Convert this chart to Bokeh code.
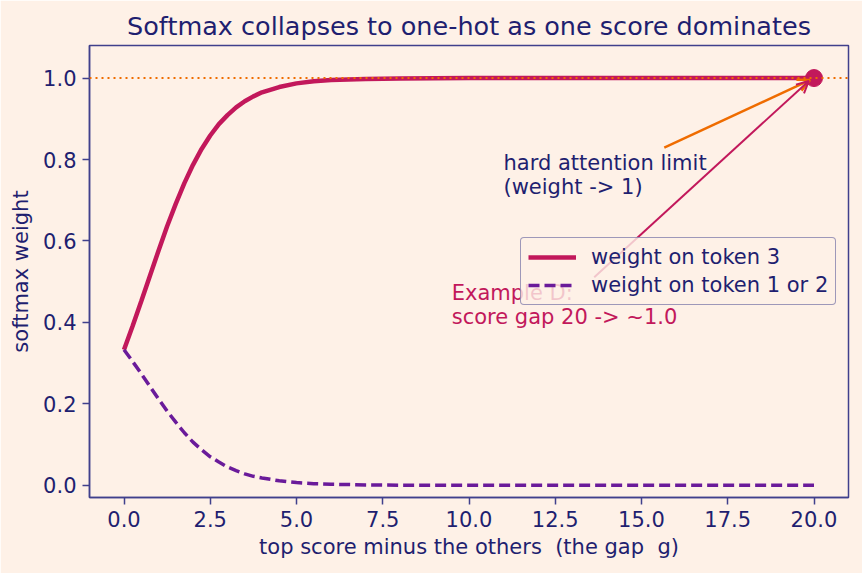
from bokeh.plotting import figure
from bokeh.models import (Range1d, FixedTicker, NumeralTickFormatter, Span, Arrow,
                          OpenHead, Legend, LegendItem)
from bokeh.core.properties import value
from bokeh.embed import file_html
from bokeh.resources import INLINE

# ---- data ----
gap = [0, 0.25, 0.5, 0.75, 1.0, 1.25, 1.5, 1.75, 2.0, 2.25, 2.5, 2.75, 3.0, 3.25,
       3.5, 3.75, 4.0, 4.5, 5.0, 5.5, 6.0, 7.0, 8.0, 10.0, 12.0, 15.0, 20.0]
w_top = [0.333, 0.391, 0.452, 0.514, 0.576, 0.636, 0.691, 0.742, 0.787, 0.826,
         0.859, 0.887, 0.909, 0.928, 0.943, 0.955, 0.965, 0.978, 0.987, 0.992,
         0.995, 0.998, 0.999, 1.000, 1.000, 1.000, 1.000]
w_other = [0.333, 0.304, 0.274, 0.243, 0.212, 0.182, 0.155, 0.129, 0.106, 0.087,
           0.070, 0.057, 0.045, 0.036, 0.028, 0.022, 0.018, 0.011, 0.0066, 0.004,
           0.0025, 0.001, 0.0003, 0.0, 0.0, 0.0, 0.0]
x_ticks = [0, 2.5, 5, 7.5, 10, 12.5, 15, 17.5, 20]
y_ticks = [0, 0.2, 0.4, 0.6, 0.8, 1.0]
example_gap = [20]
example_weight = [1.0]

BG = "#fef1e7"
FRAME = "#40408c"
TXT = "#1f1f70"
CRIMSON = "#c2185b"
PURPLE = "#6a1b9a"
ORANGE = "#ef6c00"
FONT = "DejaVu Sans"
FS = "21px"

p = figure(width=862, height=573, output_backend="svg", toolbar_location=None,
           x_range=Range1d(-1.0, 21.0), y_range=Range1d(-0.03, 1.08),
           min_border_left=89, min_border_right=14, min_border_top=45,
           min_border_bottom=76)
p.background_fill_color = BG
p.border_fill_color = BG
p.outline_line_color = FRAME
p.outline_line_width = 1.5
p.grid.visible = False

p.title.text = "Softmax collapses to one-hot as one score dominates"
p.title.align = "center"
p.title.text_font = FONT
p.title.text_font_size = "25.5px"
p.title.text_font_style = "normal"
p.title.text_color = TXT

p.xaxis.axis_label = "top score minus the others \u00a0(the gap \u00a0g)"
p.yaxis.axis_label = "softmax weight"
p.xaxis.ticker = FixedTicker(ticks=x_ticks)
p.yaxis.ticker = FixedTicker(ticks=y_ticks)
p.xaxis.formatter = NumeralTickFormatter(format="0.0")
p.yaxis.formatter = NumeralTickFormatter(format="0.0")
for ax in (p.xaxis, p.yaxis):
    ax.axis_line_color = FRAME
    ax.axis_line_width = 1.5
    ax.major_tick_line_color = FRAME
    ax.major_tick_line_width = 1.5
    ax.major_tick_out = 7
    ax.major_tick_in = 0
    ax.minor_tick_line_color = None
    ax.major_label_text_font = FONT
    ax.major_label_text_font_size = FS
    ax.major_label_text_color = TXT
    ax.axis_label_text_font = FONT
    ax.axis_label_text_font_size = FS
    ax.axis_label_text_font_style = "normal"
    ax.axis_label_text_color = TXT
p.xaxis.major_label_standoff = 6
p.yaxis.major_label_standoff = 6
p.xaxis.axis_label_standoff = 5
p.yaxis.axis_label_standoff = 7

p.add_layout(Span(location=1.0, dimension="width", line_color=ORANGE,
                  line_width=2, line_dash="2 4"))

r1 = p.line(gap, w_top, line_color=CRIMSON, line_width=4.5)
r2 = p.line(gap, w_other, line_color=PURPLE, line_width=3.5, line_dash="11 5")
p.scatter(example_gap, example_weight, size=17, color=CRIMSON)

p.text(x=[11.0], y=[0.822], text=["hard attention limit\n(weight -> 1)"],
       text_font=value(FONT), text_font_size=FS, text_color=TXT,
       text_baseline="top", text_align="left", text_line_height=1.0)
p.text(x=[9.5], y=[0.502], text=["Example D:\nscore gap 20 -> ~1.0"],
       text_font=value(FONT), text_font_size=FS, text_color=CRIMSON,
       text_baseline="top", text_align="left", text_line_height=1.0)

p.add_layout(Arrow(x_start=15.66, y_start=0.829, x_end=19.88, y_end=0.995,
                   line_color=ORANGE, line_width=2.5,
                   end=OpenHead(size=12, line_color=ORANGE, line_width=2.5)))
p.add_layout(Arrow(x_start=13.63, y_start=0.511, x_end=19.85, y_end=0.993,
                   line_color=CRIMSON, line_width=2,
                   end=OpenHead(size=12, line_color=CRIMSON, line_width=2)))

legend = Legend(items=[LegendItem(label="weight on token 3", renderers=[r1]),
                       LegendItem(label="weight on token 1 or 2", renderers=[r2])],
                location=(431, 192))
legend.background_fill_color = BG
legend.background_fill_alpha = 0.8
legend.border_line_color = FRAME
legend.border_line_width = 1.5
legend.border_radius = 4
legend.label_text_font = FONT
legend.label_text_font_size = FS
legend.label_text_color = TXT
legend.glyph_width = 48
legend.label_standoff = 15
legend.padding = 7
legend.spacing = 4
legend.margin = 0
p.add_layout(legend, "center")

open("out.html", "w").write(file_html(p, INLINE))
